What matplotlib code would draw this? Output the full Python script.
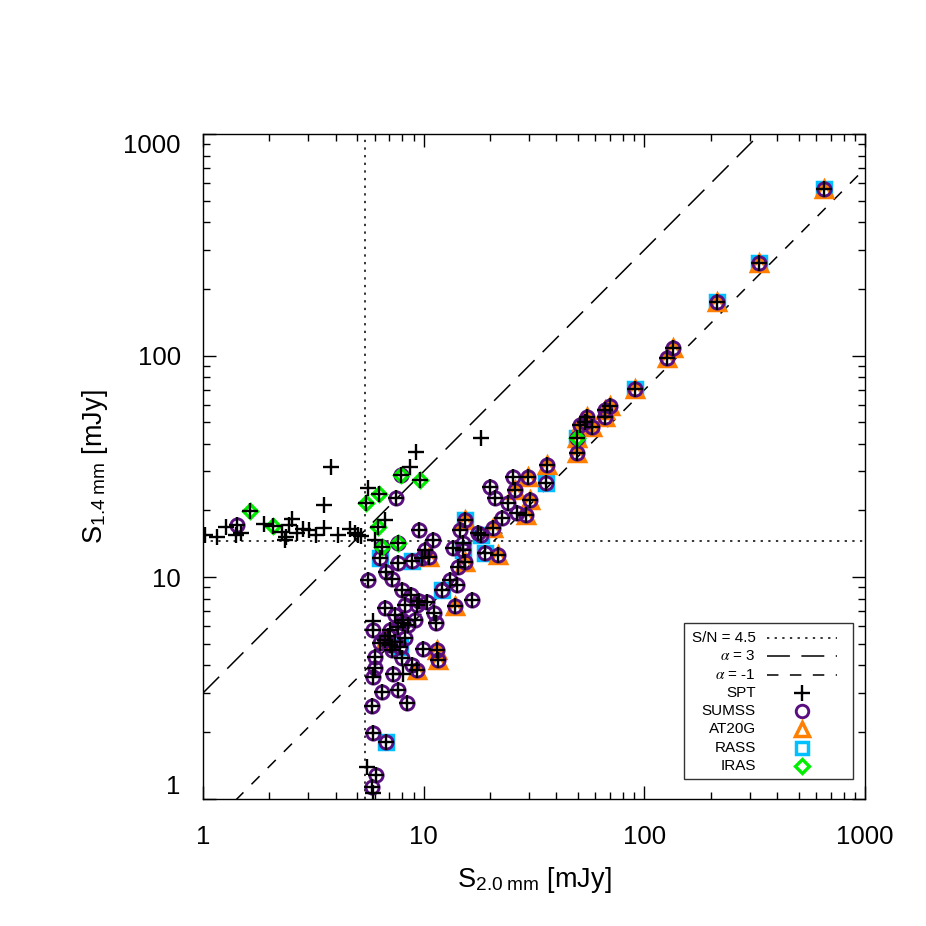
import numpy as np
import matplotlib
matplotlib.use('Agg')
import matplotlib.pyplot as plt
from matplotlib.patches import Rectangle
from matplotlib.ticker import NullFormatter

plt.rcParams['font.family'] = ['Liberation Sans', 'DejaVu Sans']
plt.rcParams['mathtext.fontset'] = 'stix'

# flux densities [mJy]: 2.0 mm (x) and 1.4 mm (y); every source is an SPT source
s20 = [1.02, 1.16, 1.27, 1.41, 1.43, 1.49, 1.63, 1.89, 2.08, 2.28,
       2.38, 2.35, 2.53, 2.45, 2.67, 2.84, 3.02, 3.25, 3.53, 3.53,
       3.80, 4.09, 4.63, 4.89, 5.04, 5.20, 5.59, 6.27, 5.48, 7.49,
       7.89, 8.67, 9.23, 9.62, 18.2, 6.21, 6.68, 6.02, 6.47, 7.65,
       6.34, 7.65, 8.85, 9.52, 11.0, 10.1, 9.83, 10.6, 5.59, 6.75,
       7.18, 7.97, 8.76, 9.52, 10.4, 9.33, 8.23, 6.68, 11.1, 11.4,
       7.41, 7.97, 8.49, 7.65, 5.89, 12.1, 13.2, 14.2, 13.9, 16.6,
       13.6, 15.1, 15.4, 15.4, 14.6, 17.6, 15.1, 14.3, 5.89, 7.03,
       8.06, 9.14, 6.68, 7.03, 7.41, 7.80, 7.18, 6.34, 6.89, 8.23,
       9.93, 11.5, 11.6, 7.97, 8.85, 9.33, 6.02, 6.02, 5.89, 7.26,
       8.06, 6.47, 7.65, 8.40, 5.83, 5.89, 6.75, 5.53, 6.08, 5.83,
       5.89, 49.5, 49.5, 36.2, 35.8, 25.4, 29.7, 25.9, 21.0, 20.0,
       30.3, 24.1, 26.5, 29.1, 22.6, 20.6, 18.2, 19.0, 21.7, 213,
       135, 127, 90.7, 69.8, 66.3, 66.3, 55.0, 53.8, 57.9, 51.1,
       651, 330]
s14 = [15.5, 15.2, 16.9, 15.5, 17.2, 15.8, 19.9, 17.4, 17.0, 16.0,
       15.2, 14.7, 18.3, 17.2, 15.8, 16.5, 16.3, 15.5, 16.7, 21.2,
       31.5, 15.5, 16.5, 15.8, 15.5, 15.3, 25.3, 23.8, 21.6, 22.8,
       28.9, 31.5, 36.7, 27.5, 42.5, 16.9, 18.1, 14.7, 13.7, 14.3,
       12.2, 11.6, 11.8, 16.3, 14.7, 13.3, 12.2, 12.3, 9.71, 10.6,
       9.82, 8.75, 8.31, 7.81, 7.73, 7.49, 7.49, 7.26, 6.89, 6.21,
       6.75, 6.41, 6.08, 5.96, 6.34, 8.75, 9.71, 9.22, 7.41, 7.89,
       13.5, 13.3, 11.7, 18.1, 16.3, 15.8, 14.3, 11.1, 5.78, 5.78,
       6.21, 6.41, 5.21, 4.94, 5.10, 4.84, 4.69, 5.05, 5.43, 5.32,
       4.74, 4.69, 4.23, 4.32, 4.01, 3.81, 4.36, 3.89, 3.54, 3.66,
       3.66, 3.03, 3.10, 2.70, 2.62, 1.98, 1.80, 1.39, 1.28, 1.13,
       1.06, 42.5, 36.4, 32.1, 26.6, 28.3, 28.3, 24.8, 22.8, 25.5,
       22.3, 21.6, 19.5, 19.1, 18.5, 16.7, 15.5, 12.9, 12.6, 175,
       108, 97.6, 70.7, 59.3, 56.9, 52.9, 52.9, 50.2, 47.6, 48.7,
       566, 262]
# counterparts: C = SUMSS, T = AT20G, S = RASS, D = IRAS
match = ['', '', '', '', 'C', '', 'D', '', 'D', '',
         '', '', '', '', '', '', '', '', '', '',
         '', '', '', '', '', '', '', 'D', 'D', 'C',
         'CD', '', '', 'D', '', 'D', '', '', 'CD', 'CD',
         'CS', 'C', 'CS', 'C', 'C', 'C', 'C', 'CT', 'C', 'C',
         'C', 'C', 'C', 'C', 'C', 'C', 'C', 'C', 'C', 'C',
         'C', 'C', 'C', 'C', '', 'CS', 'C', 'C', 'CT', 'C',
         'C', 'CS', 'CT', 'CTS', 'C', 'C', 'C', 'C', 'C', 'C',
         'C', 'C', 'CT', 'C', 'C', 'CS', 'C', 'C', 'C', 'C',
         'C', 'CT', 'CT', 'C', 'C', 'CT', 'C', 'C', 'C', 'C',
         '', 'C', 'C', 'C', 'C', 'C', 'CS', '', 'C', 'C',
         '', 'CTSD', 'CT', 'CT', 'CS', 'C', 'CT', 'CT', 'C', 'C',
         'CT', 'C', 'C', 'CT', 'C', 'CT', 'CS', 'CS', 'CT', 'CTS',
         'CT', 'CT', 'CTS', 'CT', 'CT', 'CT', 'CT', 'CT', 'CT', 'CT',
         'CTS', 'CTS']

sn_x = 5.42    # S/N = 4.5 at 2.0 mm
sn_y = 14.6    # S/N = 4.5 at 1.4 mm
ratio_a3 = 3.0
ratio_am1 = 0.7

s20 = np.array(s20)
s14 = np.array(s14)


def pick(code):
    idx = [i for i, m in enumerate(match) if code in m]
    return s20[idx], s14[idx]


purple = '#5a0f80'
orange = '#ff7f00'
cyan = '#00c0ff'
green = '#00ee00'

fig = plt.figure(figsize=(9.26, 9.26), dpi=100)
ax = fig.add_axes([0.2192, 0.1375, 0.7149, 0.7176])
ax.set_xscale('log')
ax.set_yscale('log')

xx = np.logspace(0, 3, 20)
ax.axvline(sn_x, color='k', lw=1.1, dashes=(1.5, 3.5), zorder=1)
ax.axhline(sn_y, color='k', lw=1.1, dashes=(1.5, 3.5), zorder=1)
ax.plot(xx, ratio_a3 * xx, color='k', lw=1.1, dashes=(15, 7.5), zorder=1)
ax.plot(xx, ratio_am1 * xx, color='k', lw=1.1, dashes=(7.5, 7.5), zorder=1)

mk = dict(ls='none', mfc='none')
x, y = pick('S')
ax.plot(x, y, marker='s', ms=10, mec=cyan, mew=2.5, zorder=3, **mk)
x, y = pick('T')
ax.plot(x, y, marker='^', ms=11.5, mec=orange, mew=2.5, zorder=4, **mk)
x, y = pick('C')
ax.plot(x, y, marker='o', ms=9.5, mec=purple, mew=2.1, zorder=5, **mk)
x, y = pick('D')
ax.plot(x, y, marker='D', ms=7, mec=green, mew=2.4, zorder=6, **mk)
ax.plot(s20, s14, marker='+', ms=11.5, mec='k', mew=1.7, zorder=7, ls='none')

ax.set_xlim(1, 1000)
ax.set_ylim(1, 1000)
ax.set_xticks([1, 10, 100, 1000])
ax.set_xticklabels(['1', '10', '100', '1000'])
ax.set_yticks([1, 10, 100, 1000])
ax.set_yticklabels(['1', '10', '100', '1000'])
ax.xaxis.set_minor_formatter(NullFormatter())
ax.yaxis.set_minor_formatter(NullFormatter())
ax.tick_params(which='both', direction='in', top=True, right=True, width=1)
ax.tick_params(which='major', length=9.5, labelsize=18.5)
ax.tick_params(which='minor', length=5)
ax.tick_params(axis='x', pad=19)
ax.tick_params(axis='y', pad=16)
yt = ax.yaxis.get_major_ticks()
yt[0].label1.set_va('bottom')
yt[-1].label1.set_va('top')
for sp in ax.spines.values():
    sp.set_linewidth(1)

ax.set_xlabel(r'S$_{\mathregular{2.0\ mm}}$ [mJy]', fontsize=19.5)
ax.set_ylabel(r'S$_{\mathregular{1.4\ mm}}$ [mJy]', fontsize=19.5)
ax.xaxis.label.set_va('center')
ax.yaxis.label.set_va('center')
ax.xaxis.set_label_coords(0.5, -0.122)
ax.yaxis.set_label_coords(-0.163, 0.5)

# legend box drawn by hand (labels right aligned, symbols on the right)
tr = ax.transAxes
ax.add_patch(Rectangle((0.7266, 0.0296), 0.2553, 0.2348, transform=tr,
                       fill=True, facecolor='white', edgecolor='#333333',
                       lw=1, zorder=8))
labels = ['S/N = 4.5', r'$\alpha$ = 3', r'$\alpha$ = -1', 'SPT', 'SUMSS',
          'AT20G', 'RASS', 'IRAS']
rows = 0.2414 - 0.0274 * np.arange(len(labels))
for lab, yy in zip(labels, rows):
    ax.text(0.8353, yy, lab, transform=tr, ha='right', va='center',
            fontsize=11, zorder=9)
lx = [0.852, 0.9577]
ax.plot(lx, [rows[0]] * 2, transform=tr, color='k', lw=1.1,
        dashes=(1.5, 3.5), zorder=9)
ax.plot(lx, [rows[1]] * 2, transform=tr, color='k', lw=1.1,
        dashes=(15, 7.5), zorder=9)
ax.plot(lx, [rows[2]] * 2, transform=tr, color='k', lw=1.1,
        dashes=(7.5, 7.5), zorder=9)
mx = 0.9048
ax.plot(mx, rows[3], transform=tr, marker='+', ms=11, mec='k', mew=1.7, zorder=9)
ax.plot(mx, rows[4], transform=tr, marker='o', ms=9, mfc='none', mec=purple, mew=2.1, zorder=9)
ax.plot(mx, rows[5], transform=tr, marker='^', ms=9.5, mfc='none', mec=orange, mew=2.5, zorder=9)
ax.plot(mx, rows[6], transform=tr, marker='s', ms=8.5, mfc='none', mec=cyan, mew=2.5, zorder=9)
ax.plot(mx, rows[7], transform=tr, marker='D', ms=7, mfc='none', mec=green, mew=2.4, zorder=9)

fig.savefig('out.png', dpi=100)
